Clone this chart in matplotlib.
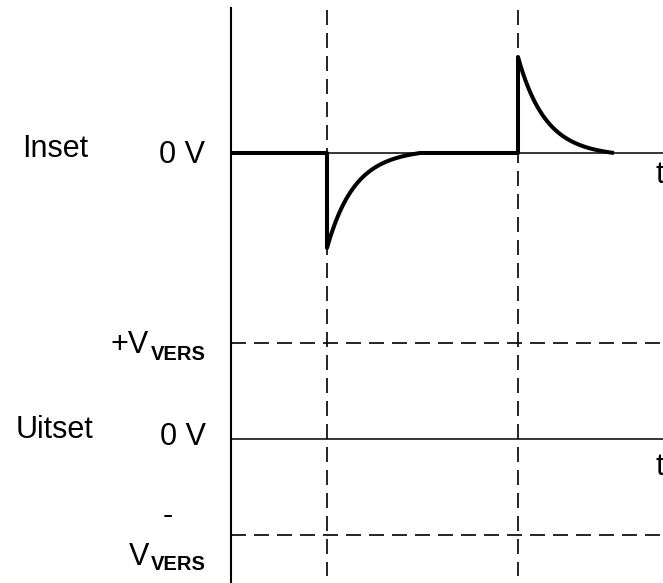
import numpy as np
import matplotlib
matplotlib.use("Agg")
import matplotlib.pyplot as plt

# time axis (pixel-like units across the sheet)
T_START = 231          # vertical axis position
T_EDGES = [327, 518]   # falling / rising edges of the input step
T_END = 663
SETTLE = [93, 96]      # time for each spike to die out
TAU = 27               # RC time constant

# levels (pixel-like units, y grows downward)
IN_ZERO = 153
IN_SPIKES = [95, -96]  # negative spike, positive spike (down = +)
OUT_ZERO = 439
V_VERS = 96

FONT = ["Liberation Sans", "DejaVu Sans"]
plt.rcParams["font.family"] = FONT

fig = plt.figure(figsize=(6.63, 5.83), dpi=100)
ax = fig.add_axes([0, 0, 1, 1])
ax.set_xlim(0, 663)
ax.set_ylim(583, 0)
ax.axis("off")

dash = (0, (9, 4.8))

# axis and edge markers
ax.plot([T_START, T_START], [8, 583], color="black", lw=1.5)
for te in T_EDGES:
    ax.plot([te, te], [10, 576], color="black", lw=1.2, linestyle=dash)

# zero lines
ax.plot([T_START, T_END], [IN_ZERO, IN_ZERO], color="black", lw=1.1)
ax.plot([T_START, T_END], [OUT_ZERO, OUT_ZERO], color="black", lw=1.1)
# threshold lines
for lv in [OUT_ZERO - V_VERS, OUT_ZERO + V_VERS]:
    ax.plot([T_START, T_END], [lv, lv], color="black", lw=1.2, linestyle=dash)

# input signal: flat, spike at each edge decaying back
sig_t = [T_START, T_EDGES[0]]
sig_v = [IN_ZERO, IN_ZERO]
for i, te in enumerate(T_EDGES):
    tt = np.linspace(0, SETTLE[i], 80)
    amp = IN_SPIKES[i]
    sig_t += list(te + tt)
    sig_v += list(IN_ZERO + amp * (np.exp(-tt / TAU) - np.exp(-SETTLE[i] / TAU) * tt / SETTLE[i]))
    if i == 0:
        sig_t += [T_EDGES[1]]
        sig_v += [IN_ZERO]
ax.plot([T_EDGES[0], T_EDGES[0]], [IN_ZERO, IN_ZERO + IN_SPIKES[0]], color="black", lw=2.9,
        solid_capstyle="butt")
ax.plot(sig_t, sig_v, color="black", lw=2.9, solid_joinstyle="round", solid_capstyle="butt")

fs = 22
sub = 14.5
ax.text(22, 157, "Inset", fontsize=fs, ha="left", va="baseline")
ax.text(205, 163, "0 V", fontsize=fs, ha="right", va="baseline")
ax.text(656, 183, "t", fontsize=fs, ha="left", va="baseline")

ax.text(93, 438, "Uitset", fontsize=fs, ha="right", va="baseline")
ax.text(206, 445, "0 V", fontsize=fs, ha="right", va="baseline")
ax.text(656, 475, "t", fontsize=fs, ha="left", va="baseline")

ax.text(149, 353, "+V", fontsize=fs, ha="right", va="baseline")
ax.text(206, 360, "VERS", fontsize=sub, fontweight="bold", ha="right", va="baseline")
ax.text(168, 524, "-", fontsize=fs, ha="center", va="baseline")
ax.text(149, 565, "V", fontsize=fs, ha="right", va="baseline")
ax.text(206, 570, "VERS", fontsize=sub, fontweight="bold", ha="right", va="baseline")

fig.savefig("out.png", dpi=100)
